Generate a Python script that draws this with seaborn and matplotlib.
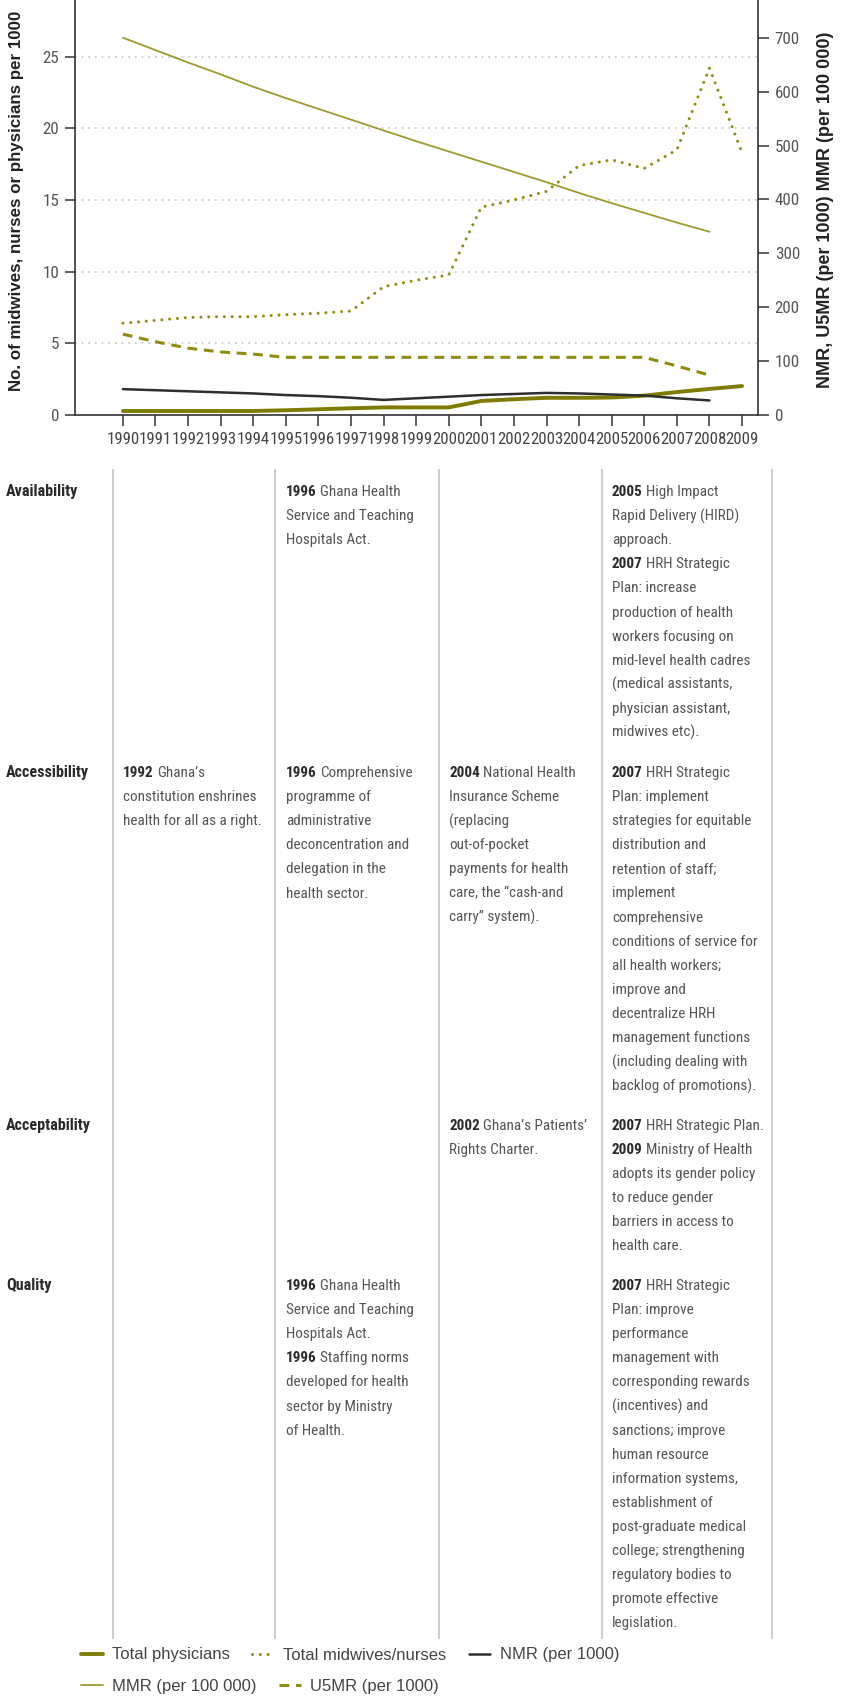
import matplotlib
matplotlib.use("Agg")
import matplotlib.pyplot as plt
import seaborn as sns
import pandas as pd
from matplotlib import font_manager as fm

# ---------------- data ----------------
years = list(range(1990, 2010))
physicians = [0.28, 0.28, 0.28, 0.28, 0.28, 0.33, 0.40, 0.47, 0.53, 0.53,
              0.53, 0.98, 1.10, 1.20, 1.20, 1.22, 1.35, 1.60, 1.82, 2.02]
nurses = [6.4, 6.6, 6.8, 6.86, 6.86, 7.0, 7.1, 7.25, 8.95, 9.4,
          9.77, 14.5, 15.0, 15.6, 17.4, 17.8, 17.2, 18.5, 24.2, 18.3]
years_mr = list(range(1990, 2009))
nmr = [48, 46, 44, 42, 40, 37, 35, 32, 28, 31, 34, 37, 39, 41, 40, 38, 36, 31, 27]
mmr = [700, 677, 654, 632, 609, 588, 568, 548, 528, 508, 489, 470, 451, 432,
       412, 393, 375, 357, 340]
u5mr = [150, 136, 124, 117, 113, 107, 107, 107, 107, 107, 107, 107, 107, 107,
        107, 107, 107, 91, 74]
left_ticks = [0, 5, 10, 15, 20, 25]
right_ticks = [0, 100, 200, 300, 400, 500, 600, 700]
left_label = "No. of midwives, nurses or physicians per 1000"
right_label = "NMR, U5MR (per 1000) MMR (per 100 000)"
legend_row1 = ["Total physicians", "Total midwives/nurses", "NMR (per 1000)"]
legend_row2 = ["MMR (per 100 000)", "U5MR (per 1000)"]

row_labels = ["Availability", "Accessibility", "Acceptability", "Quality"]
cells = [
    (0, 1, [("1996", "Ghana Health"), ("", "Service and Teaching"), ("", "Hospitals Act.")]),
    (0, 3, [("2005", "High Impact"), ("", "Rapid Delivery (HIRD)"), ("", "approach."),
            ("2007", "HRH Strategic"), ("", "Plan: increase"), ("", "production of health"),
            ("", "workers focusing on"), ("", "mid-level health cadres"),
            ("", "(medical assistants,"), ("", "physician assistant,"), ("", "midwives etc).")]),
    (1, 0, [("1992", "Ghana\u2019s"), ("", "constitution enshrines"), ("", "health for all as a right.")]),
    (1, 1, [("1996", "Comprehensive"), ("", "programme of"), ("", "administrative"),
            ("", "deconcentration and"), ("", "delegation in the"), ("", "health sector.")]),
    (1, 2, [("2004", "National Health"), ("", "Insurance Scheme"), ("", "(replacing"),
            ("", "out-of-pocket"), ("", "payments for health"), ("", "care, the \u201ccash-and"),
            ("", "carry\u201d system).")]),
    (1, 3, [("2007", "HRH Strategic"), ("", "Plan: implement"), ("", "strategies for equitable"),
            ("", "distribution and"), ("", "retention of staff;"), ("", "implement"),
            ("", "comprehensive"), ("", "conditions of service for"), ("", "all health workers;"),
            ("", "improve and"), ("", "decentralize HRH"), ("", "management functions"),
            ("", "(including dealing with"), ("", "backlog of promotions).")]),
    (2, 2, [("2002", "Ghana\u2019s Patients\u2019"), ("", "Rights Charter.")]),
    (2, 3, [("2007", "HRH Strategic Plan."), ("2009", "Ministry of Health"),
            ("", "adopts its gender policy"), ("", "to reduce gender"),
            ("", "barriers in access to"), ("", "health care.")]),
    (3, 1, [("1996", "Ghana Health"), ("", "Service and Teaching"), ("", "Hospitals Act."),
            ("1996", "Staffing norms"), ("", "developed for health"), ("", "sector by Ministry"),
            ("", "of Health.")]),
    (3, 3, [("2007", "HRH Strategic"), ("", "Plan: improve"), ("", "performance"),
            ("", "management with"), ("", "corresponding rewards"), ("", "(incentives) and"),
            ("", "sanctions; improve"), ("", "human resource"), ("", "information systems,"),
            ("", "establishment of"), ("", "post-graduate medical"), ("", "college; strengthening"),
            ("", "regulatory bodies to"), ("", "promote effective"), ("", "legislation.")]),
]

# ---------------- style ----------------
sns.set_style("ticks")


def has_font(name):
    try:
        fm.findfont(fm.FontProperties(family=name), fallback_to_default=False)
        return True
    except Exception:
        return False


if has_font("Liberation Sans Narrow"):
    NARROW, NS = "Liberation Sans Narrow", 1.0
elif has_font("Roboto Condensed"):
    NARROW, NS = "Roboto Condensed", 0.93
else:
    NARROW, NS = "Liberation Sans", 0.84
WIDE = "Liberation Sans" if has_font("Liberation Sans") else "DejaVu Sans"
plt.rcParams["font.family"] = [WIDE, "DejaVu Sans"]

OLIVE_DARK = "#7e7b00"
OLIVE = "#8f8c10"
OLIVE_LIGHT = "#9d9a30"
DARK = "#2e2e2e"
AXC = "#333333"

W, H = 843, 1697
fig = plt.figure(figsize=(W / 100, H / 100), dpi=100)

# table/background axes in pixel coordinates
axt = fig.add_axes([0, 0, 1, 1], zorder=0)
axt.set_xlim(0, W)
axt.set_ylim(H, 0)
axt.axis("off")

ax = fig.add_axes([75 / W, 1 - 415 / H, (758 - 75) / W, 415 / H], zorder=2)
ax.patch.set_alpha(0)

# ---------------- chart ----------------
df_l = pd.DataFrame({"year": years, "phys": physicians, "nurse": nurses})
df_r = pd.DataFrame({"year": years_mr, "nmr": nmr, "mmr": mmr, "u5mr": u5mr})

sns.lineplot(data=df_l, x="year", y="nurse", ax=ax, color=OLIVE, lw=2.2,
             linestyle=(0, (0.01, 2.55)), dash_capstyle="round")
h_nurse = ax.lines[-1]
sns.lineplot(data=df_l, x="year", y="phys", ax=ax, color=OLIVE_DARK, lw=2.8)
h_phys = ax.lines[-1]

ax2 = ax.twinx()
sns.lineplot(data=df_r, x="year", y="mmr", ax=ax2, color=OLIVE_LIGHT, lw=1.3)
h_mmr = ax2.lines[-1]
sns.lineplot(data=df_r, x="year", y="u5mr", ax=ax2, color=OLIVE, lw=2.2,
             linestyle=(0, (3.2, 2.2)))
h_u5 = ax2.lines[-1]
sns.lineplot(data=df_r, x="year", y="nmr", ax=ax2, color=DARK, lw=1.8)
h_nmr = ax2.lines[-1]

ax.set_xlim(1988.53, 2009.49)
ax.set_ylim(0, 28.95)
ax2.set_ylim(0, 770)
ax.set_xticks(years)
ax.set_xticklabels([str(y) for y in years])
ax.set_yticks(left_ticks)
ax.set_yticklabels([str(t) for t in left_ticks])
ax2.set_yticks(right_ticks)
ax2.set_yticklabels([str(t) for t in right_ticks])

ax.grid(axis="y", color="#c4c4c4", lw=1.2, linestyle=(0, (1, 3)))
ax.grid(axis="x", visible=False)

for a in (ax, ax2):
    a.spines["top"].set_visible(False)
    for s in a.spines.values():
        s.set_color(AXC)
        s.set_linewidth(1.2)
ax.spines["right"].set_visible(False)
ax2.spines["left"].set_visible(False)
ax2.spines["bottom"].set_visible(False)

ax.tick_params(axis="x", length=8, width=1.1, color=AXC, pad=4.5,
               labelcolor="#444444", labelsize=13.0 * NS)
ax.tick_params(axis="y", length=7.5, width=1.1, color=AXC, pad=4,
               labelcolor="#555555", labelsize=13.2 * NS)
ax2.tick_params(axis="y", length=8, width=1.1, color=AXC, pad=4,
                labelcolor="#555555", labelsize=13.2 * NS)
for lab in ax.get_xticklabels() + ax.get_yticklabels() + ax2.get_yticklabels():
    lab.set_family([NARROW, "DejaVu Sans"])

ax.set_xlabel("")
ax.set_ylabel(left_label, fontsize=12.2, fontweight="bold", color="#222222",
              family=[WIDE, "DejaVu Sans"])
ax.yaxis.set_label_coords(-0.0747, 0.516)
ax2.set_ylabel(right_label, fontsize=13, fontweight="bold", color="#222222",
               family=[WIDE, "DejaVu Sans"])
ax2.yaxis.set_label_coords(1.086, 0.494)

# ---------------- legend ----------------
leg_kw = dict(loc="center left", frameon=False, handlelength=1.3, handletextpad=0.55,
              columnspacing=1.35, borderpad=0, borderaxespad=0,
              prop=dict(family=[WIDE, "DejaVu Sans"], size=12))
leg1 = fig.legend(handles=[h_phys, h_nurse, h_nmr], labels=legend_row1, ncol=3,
                  bbox_to_anchor=(81 / W, 1 - 1655 / H), **leg_kw)
leg2 = fig.legend(handles=[h_mmr, h_u5], labels=legend_row2, ncol=2,
                  bbox_to_anchor=(81 / W, 1 - 1686 / H), **leg_kw)
for lg in (leg1, leg2):
    for t in lg.get_texts():
        t.set_color("#444444")

# ---------------- table ----------------
col_lines = [113, 275, 439, 602, 772]
col_text_x = [123, 286, 449, 612]
row_y = [490, 771, 1124, 1284]
LINE_H = 24.1
BASE_OFF = 6

axt.vlines(col_lines, 469, 1639, color="#c9c9c9", lw=1.3)

body_font = dict(family=[NARROW, "DejaVu Sans"], size=11.7 * NS)
renderer = fig.canvas.get_renderer()

for i, lab in enumerate(row_labels):
    axt.text(6, row_y[i] + BASE_OFF, lab, fontweight="bold", color="#2a2a2a",
             va="baseline", ha="left", family=[NARROW, "DejaVu Sans"], size=12.5 * NS)

for r, c, lines in cells:
    for k, (b, rest) in enumerate(lines):
        y = row_y[r] + k * LINE_H + BASE_OFF
        x = col_text_x[c]
        if b:
            t = axt.text(x, y, b, fontweight="bold", color="#2a2a2a", va="baseline",
                         ha="left", **body_font)
            w = t.get_window_extent(renderer).width
            x += w + 3.5
        axt.text(x, y, rest, color="#555555", va="baseline", ha="left", **body_font)

fig.savefig("out.png", dpi=100)
